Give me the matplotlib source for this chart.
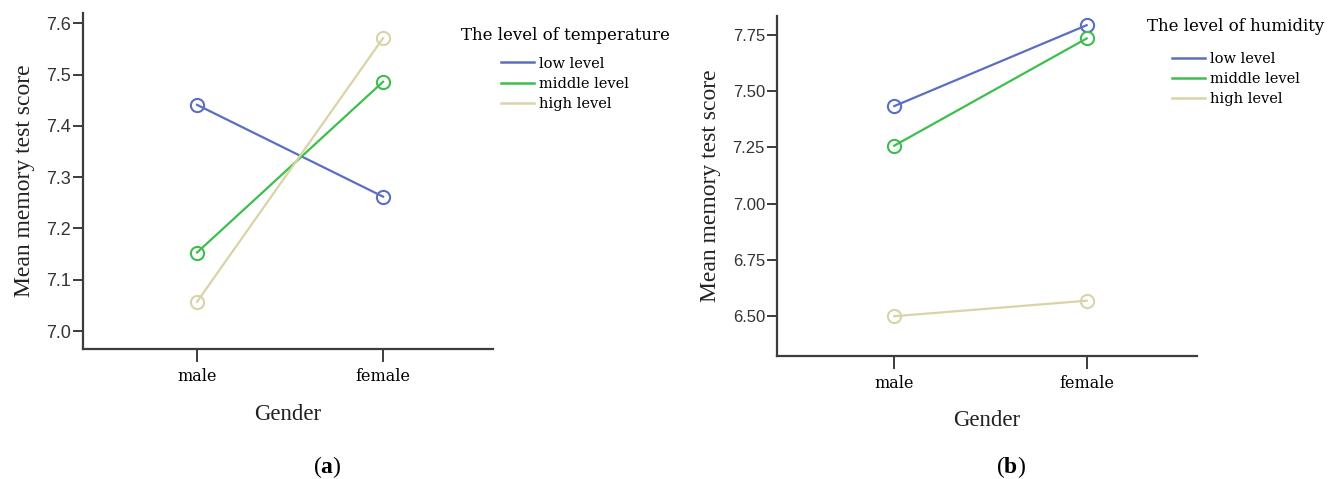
import matplotlib
matplotlib.use("Agg")
import matplotlib.pyplot as plt
from matplotlib.lines import Line2D

# data
genders = ["male", "female"]
levels = ["low level", "middle level", "high level"]

temp_low = [7.441, 7.262]
temp_middle = [7.153, 7.486]
temp_high = [7.057, 7.571]

hum_low = [7.434, 7.794]
hum_middle = [7.258, 7.735]
hum_high = [6.499, 6.568]

temp_ticks = [7.0, 7.1, 7.2, 7.3, 7.4, 7.5, 7.6]
hum_ticks = [6.50, 6.75, 7.00, 7.25, 7.50, 7.75]

colors = ["#5a6ec3", "#3dbe4d", "#d9d4a6"]
spine_col = "#3c3c3c"

plt.rcParams["mathtext.fontset"] = "custom"
plt.rcParams["mathtext.bf"] = "Liberation Serif:bold"

fig = plt.figure(figsize=(13.3, 4.79), dpi=100)
W, H = 1330.0, 479.0


def make_axes(x0, x1, y0, y1):
    return fig.add_axes([x0 / W, 1 - y1 / H, (x1 - x0) / W, (y1 - y0) / H])


def style_axes(ax, ticks, fmt, tick_size, xlim, ylim):
    for side in ("top", "right"):
        ax.spines[side].set_visible(False)
    for side in ("left", "bottom"):
        ax.spines[side].set_color(spine_col)
        ax.spines[side].set_linewidth(1.6)
    ax.set_xticks(range(len(genders)))
    ax.set_xticklabels(genders, family="DejaVu Serif", fontsize=11.5)
    ax.set_yticks(ticks)
    ax.set_yticklabels([fmt % t for t in ticks], family="Liberation Sans",
                       fontsize=tick_size, color="#333333")
    ax.tick_params(axis="x", length=9.5, width=1.4, color=spine_col, pad=4.5)
    ax.tick_params(axis="y", length=7.5, width=1.4, color=spine_col, pad=1)
    ax.set_xlim(*xlim)
    ax.set_ylim(*ylim)
    ax.set_xlabel("Gender", family="Liberation Serif", fontsize=16.5,
                  labelpad=13, color="#222222")
    ax.set_ylabel("Mean memory test score", family="Liberation Serif",
                  fontsize=17, labelpad=8, color="#222222")


def draw_series(ax, series):
    x = range(len(genders))
    for vals, c in zip(series, colors):
        ax.plot(x, vals, color=c, lw=1.6, marker="o", ms=9.5, mfc="none",
                mec=c, mew=1.5)


def add_legend(title, cx, top, sep):
    handles = [Line2D([], [], color=c, lw=1.8) for c in colors]
    leg = fig.legend(handles, levels, title=title, loc="upper center",
                     bbox_to_anchor=(cx / W, 1 - top / H), frameon=False,
                     prop={"family": "DejaVu Serif", "size": 10.5},
                     handlelength=2.2, handletextpad=0.35, labelspacing=0.42,
                     borderpad=0, borderaxespad=0)
    leg.get_title().set_fontfamily("DejaVu Serif")
    leg.get_title().set_fontsize(12)
    leg._legend_box.sep = sep


# (a) temperature
ax1 = make_axes(83, 493, 13, 349)
draw_series(ax1, [temp_low, temp_middle, temp_high])
style_axes(ax1, temp_ticks, "%.1f", 13, (-0.613, 1.591), (6.965, 7.62))
add_legend("The level of temperature", 565, 27, 9)

# (b) humidity
ax2 = make_axes(776.7, 1196.7, 16, 356)
draw_series(ax2, [hum_low, hum_middle, hum_high])
style_axes(ax2, hum_ticks, "%.2f", 12, (-0.611, 1.572), (6.322, 7.835))
add_legend("The level of humidity", 1236, 18, 12)

fig.text(327.5 / W, 1 - 467 / H, r"($\mathbf{a}$)", family="Liberation Serif",
         fontsize=17, ha="center", va="center")
fig.text(1011 / W, 1 - 467 / H, r"($\mathbf{b}$)", family="Liberation Serif",
         fontsize=17, ha="center", va="center")

fig.savefig("out.png", dpi=100)
